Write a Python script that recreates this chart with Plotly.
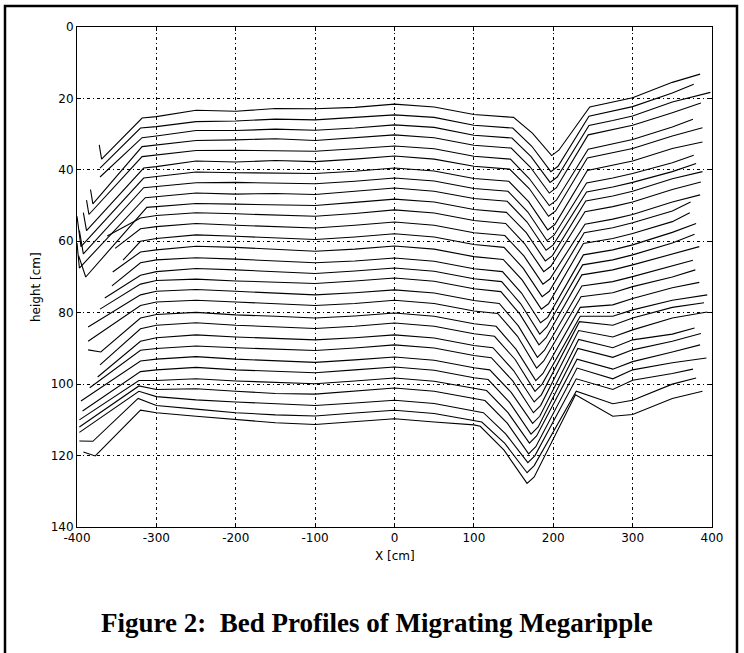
import plotly.graph_objects as go

# ---- data (x in cm, height in cm; 30 bed profiles, top to bottom) ----
LEFT_X = [
    [-372, -369, -318], [-371, -320], [-371, -318], [-383, -380, -318], [-388, -385, -318],
    [-392, -388, -316], [-400, -395, -316], [-397, -392, -316], [-400, -397, -314], [-398, -389, -312],
    [-362, -320], [-352, -320], [-342, -320], [-355, -320], [-356, -320],
    [-365, -320], [-371, -320], [-386, -320], [-386, -320], [-386, -370, -320],
    [-371, -320], [-374, -320], [-384, -320], [-395, -320], [-393, -320],
    [-397, -322], [-397, -322], [-397, -322], [-397, -380, -323], [-392, -377, -320],
]
LEFT_Y = [
    [33.0, 37.0, 25.5], [39.5, 28.3], [42.0, 31.0], [45.5, 49.5, 33.5], [48.5, 52.5, 36.3],
    [52.0, 57.0, 39.5], [53.0, 61.5, 42.3], [57.0, 63.5, 45.0], [60.5, 67.5, 47.8], [64.0, 70.0, 50.5],
    [58.5, 53.5], [62.0, 56.5], [65.3, 60.0], [68.6, 63.0], [72.5, 66.0],
    [75.9, 69.5], [79.0, 72.0], [84.0, 75.0], [88.0, 78.0], [90.4, 91.0, 81.5],
    [94.6, 84.5], [98.0, 88.0], [101.0, 90.5], [104.7, 93.5], [107.5, 96.5],
    [110.0, 99.0], [112.0, 100.5], [113.5, 102.0], [115.9, 116.0, 104.0], [119.0, 120.1, 107.3],
]

XK = [-300, -250, -200, -150, -100, -50, 0, 50, 100]
Y_M300 = [25.1, 27.9, 30.5, 33.0, 35.8, 39.1, 41.9, 44.7, 47.5, 50.3, 52.8, 55.9, 59.2, 62.4, 65.2,
          68.5, 71.0, 74.0, 77.0, 80.5, 83.5, 87.0, 90.0, 93.0, 96.0, 99.0, 101.5, 103.5, 106.0, 108.0]
Y_M250 = [23.3, 26.5, 29.0, 31.8, 34.6, 37.5, 40.6, 43.6, 46.5, 49.4, 52.0, 55.0, 58.2, 61.4, 64.6,
          67.6, 70.6, 73.5, 76.5, 79.9, 82.8, 86.2, 89.3, 92.3, 95.3, 98.5, 101.3, 104.4, 107.0, 109.0]
Y_M200 = [23.6, 26.3, 29.0, 31.6, 34.5, 37.8, 40.8, 43.5, 46.8, 49.6, 52.3, 55.5, 58.6, 61.7, 65.0,
          68.0, 71.1, 74.0, 77.0, 80.6, 83.5, 86.8, 89.8, 93.0, 96.0, 99.1, 102.0, 105.0, 108.0, 110.0]
Y_M150 = [22.8, 25.8, 28.6, 31.3, 34.6, 37.4, 40.8, 43.7, 46.6, 49.7, 52.6, 55.8, 59.0, 62.3, 65.6,
          68.5, 71.5, 74.6, 77.5, 81.0, 84.0, 87.2, 90.2, 93.5, 96.5, 99.6, 102.6, 105.6, 108.6, 110.8]
Y_M100 = [22.9, 26.0, 28.9, 31.8, 34.8, 37.7, 41.0, 43.9, 46.9, 50.0, 53.0, 56.3, 59.5, 62.8, 66.0,
          69.0, 71.8, 75.0, 78.0, 81.5, 84.4, 87.6, 90.6, 93.9, 96.8, 99.9, 102.8, 106.0, 108.9, 111.3]
Y_M50 = [22.5, 25.4, 28.3, 31.0, 34.1, 37.0, 40.4, 43.2, 46.0, 49.1, 52.2, 55.5, 58.8, 62.2, 65.5,
         68.3, 71.1, 74.4, 77.4, 80.9, 83.8, 87.0, 89.9, 93.2, 96.0, 99.1, 102.0, 105.3, 108.1, 110.5]
Y_0 = [21.6, 24.6, 27.4, 30.2, 33.3, 36.1, 39.5, 42.3, 45.1, 48.2, 51.2, 54.6, 57.9, 61.3, 64.7,
       67.5, 70.3, 73.6, 76.5, 80.1, 82.9, 86.2, 89.0, 92.4, 95.2, 98.3, 101.1, 104.5, 107.3, 109.7]
Y_50 = [22.4, 25.3, 28.1, 31.0, 34.1, 37.0, 40.3, 43.1, 46.0, 49.0, 52.1, 55.5, 58.8, 62.2, 65.6,
        68.4, 71.2, 74.5, 77.4, 81.0, 83.8, 87.1, 89.9, 93.3, 96.1, 99.2, 102.0, 105.4, 108.2, 110.6]
Y_100 = [24.5, 27.5, 30.3, 33.1, 36.2, 39.0, 42.4, 45.2, 48.0, 51.1, 54.2, 57.6, 60.9, 64.3, 67.7,
         70.5, 73.3, 76.6, 79.5, 83.1, 85.9, 89.2, 92.0, 95.4, 98.2, 101.3, 104.1, 107.5, 110.2, 111.4]

# shoulder where the lee slope steepens
SH_X = [150, 149, 148, 147, 146, 145, 144, 143, 142, 141, 140, 139, 138, 137, 136,
        135, 134, 132, 130, 128, 126, 124, 122, 120, 118, 116, 114, 112, 110, 108]
SH_Y = [25.3, 28.3, 31.1, 33.9, 37.0, 39.8, 43.2, 46.0, 48.8, 51.9, 55.0, 58.4, 61.7, 65.1, 68.5,
        71.3, 74.1, 77.4, 80.2, 83.8, 86.6, 89.8, 92.6, 96.0, 98.7, 101.8, 104.6, 108.0, 110.6, 111.8]
# mid lee slope
MS_X = [174, 173, 172, 171, 170, 170, 169, 168, 167, 166, 164, 163, 162, 161, 160,
        159, 158, 156, 155, 153, 152, 150, 149, 147, 145, 143, 142, 140, 139, 138]
MS_Y = [29.8, 33.4, 36.3, 39.2, 42.5, 45.3, 48.9, 51.8, 54.6, 57.6, 60.7, 64.1, 67.5, 70.9, 74.5,
        77.5, 80.4, 83.7, 86.6, 90.2, 93.1, 96.2, 99.1, 102.3, 105.1, 108.0, 110.9, 113.9, 116.6, 118.5]
# trough
TX = [198, 197, 196, 195, 195, 194, 193, 192, 191, 190, 188, 187, 186, 185, 184,
      183, 182, 180, 179, 178, 177, 176, 175, 174, 172, 170, 169, 168, 167, 167]
TY = [36.0, 40.5, 43.5, 46.5, 50.0, 53.0, 56.8, 59.8, 62.5, 65.5, 68.5, 72.0, 75.5, 79.0, 82.8,
      86.0, 89.0, 92.5, 95.5, 99.0, 102.0, 105.0, 108.0, 111.0, 114.0, 116.5, 119.5, 122.0, 124.8, 127.8]
# just past the trough
R1_X = [207, 206, 205, 204, 204, 203, 202, 201, 200, 199, 197, 196, 195, 194, 193,
        192, 191, 189, 188, 187, 186, 185, 184, 183, 181, 179, 178, 177, 176, 176]
R1_Y = [34.5, 39.0, 42.0, 45.0, 48.5, 51.5, 55.3, 58.3, 61.0, 64.0, 67.0, 70.5, 74.0, 77.5, 81.3,
        84.0, 87.0, 90.5, 93.5, 97.0, 100.0, 103.0, 106.0, 109.0, 112.0, 114.5, 117.5, 120.0, 122.8, 126.0]
# top of the stoss rise
R2_X = [246, 245, 245, 244, 244, 243, 243, 242, 242, 241, 240, 240, 239, 238, 238,
        237, 236, 236, 235, 234, 234, 233, 232, 232, 231, 230, 230, 229, 229, 228]
R2_Y = [22.4, 25.0, 27.6, 30.2, 34.2, 36.7, 40.2, 43.7, 46.2, 48.7, 51.7, 55.2, 57.6, 60.6, 63.8,
        66.6, 69.4, 72.5, 75.5, 78.5, 81.0, 82.5, 85.0, 87.5, 90.0, 93.0, 95.5, 98.5, 102.0, 103.0]
XR = [275, 300, 350]
Y_275 = [21.0, 23.6, 26.2, 28.8, 32.8, 35.3, 38.8, 42.3, 44.8, 47.3, 50.3, 53.8, 56.2, 59.2, 62.4,
         65.2, 68.0, 71.3, 74.4, 77.8, 81.0, 83.5, 86.8, 89.8, 92.5, 95.8, 98.5, 101.5, 105.5, 109.0]
Y_300 = [19.8, 22.3, 24.9, 27.5, 31.5, 34.0, 37.5, 41.0, 43.5, 46.0, 49.0, 52.5, 54.8, 57.8, 61.0,
         63.8, 66.6, 69.9, 72.7, 76.0, 79.2, 81.5, 84.8, 87.6, 90.4, 93.7, 96.0, 98.9, 104.5, 108.5]
Y_350 = [15.5, 18.5, 21.0, 24.0, 28.0, 30.5, 34.0, 38.0, 40.5, 42.5, 45.5, 49.0, 51.5, 54.5, 57.5,
         60.5, 63.5, 67.0, 70.0, 73.0, 76.5, 78.5, 81.5, 86.0, 88.0, 91.0, 94.0, 97.0, 100.0, 104.0]
END_X = [385, 377, 398, 386, 376, 388, 388, 377, 380, 388, 386, 385, 373, 372, 380,
         378, 384, 376, 379, 384, 394, 390, 394, 378, 386, 385, 393, 376, 380, 388]
END_Y = [13.2, 16.0, 18.3, 21.3, 25.8, 28.2, 32.2, 35.9, 38.2, 40.5, 43.4, 47.0, 49.0, 52.0, 55.0,
         58.0, 61.5, 65.3, 68.0, 71.5, 75.0, 77.2, 79.8, 84.3, 85.8, 89.0, 92.7, 95.8, 98.3, 102.0]

X_TICKS = [-400, -300, -200, -100, 0, 100, 200, 300, 400]
Y_TICKS = [0, 20, 40, 60, 80, 100, 120, 140]

fig = go.Figure()
for i in range(len(Y_0)):
    xs = (LEFT_X[i] + XK + [SH_X[i], MS_X[i], TX[i], R1_X[i], R2_X[i]] + XR + [END_X[i]])
    ys = (LEFT_Y[i]
          + [Y_M300[i], Y_M250[i], Y_M200[i], Y_M150[i], Y_M100[i], Y_M50[i], Y_0[i], Y_50[i], Y_100[i]]
          + [SH_Y[i], MS_Y[i], TY[i], R1_Y[i], R2_Y[i]]
          + [Y_275[i], Y_300[i], Y_350[i], END_Y[i]])
    fig.add_trace(go.Scatter(x=xs, y=ys, mode="lines",
                             line=dict(color="black", width=1.1),
                             showlegend=False, hoverinfo="skip"))

tick_font = dict(family="DejaVu Sans", size=12, color="black")
axis_common = dict(showline=True, linecolor="black", linewidth=1, mirror="ticks",
                   ticks="inside", ticklen=4, tickcolor="black",
                   showgrid=True, gridcolor="black", gridwidth=1,
                   griddash="3px,3px,1px,3px", zeroline=False, tickfont=tick_font)

fig.update_xaxes(range=[-400, 400], tickvals=X_TICKS, ticktext=[str(v) for v in X_TICKS],
                 **axis_common)
fig.update_yaxes(range=[140, 0], tickvals=Y_TICKS, ticktext=[str(v) for v in Y_TICKS],
                 **axis_common)

L, R, T, B = 77, 32, 27, 126
W, H = 744, 653
pw, ph = W - L - R, H - T - B


def px(xp):
    return (xp - L) / pw


def py(yp):
    return (H - B - yp) / ph


fig.update_layout(
    width=W, height=H,
    margin=dict(l=L, r=R, t=T, b=B),
    paper_bgcolor="white", plot_bgcolor="white",
    hovermode=False,
    shapes=[dict(type="rect", xref="paper", yref="paper",
                 x0=px(5), x1=px(737), y0=py(662), y1=py(6),
                 line=dict(color="black", width=2.5), fillcolor="rgba(0,0,0,0)")],
    annotations=[
        dict(text="X [cm]", xref="paper", yref="paper", x=0.5, y=py(556),
             showarrow=False, xanchor="center", yanchor="middle",
             font=dict(family="DejaVu Sans", size=12, color="black")),
        dict(text="height [cm]", xref="paper", yref="paper", x=px(36), y=py(287),
             showarrow=False, textangle=-90, xanchor="center", yanchor="middle",
             font=dict(family="DejaVu Sans", size=12, color="black")),
        dict(text="<b>Figure 2:  Bed Profiles of Migrating Megaripple</b>", xref="paper", yref="paper",
             x=px(377), y=py(623), showarrow=False, xanchor="center", yanchor="middle",
             font=dict(family="Liberation Serif", size=27, color="black")),
    ],
)

fig.write_html("out.html", config={"displayModeBar": False},
               post_script="document.body.style.margin='0px';document.body.style.overflow='hidden';")
